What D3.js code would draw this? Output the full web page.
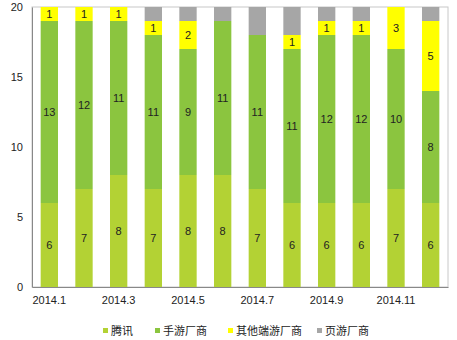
<!DOCTYPE html>
<html>
<head>
<meta charset="utf-8">
<script src="https://cdn.jsdelivr.net/npm/d3@7"></script>
<style>
  html, body { margin: 0; padding: 0; background: #fff; }
  svg { display: block; font-family: "Liberation Sans", "Noto Sans CJK SC", sans-serif; }
</style>
</head>
<body>
<svg id="chart" width="457" height="340"></svg>
<script>
// Monthly counts per publisher group, stacked bottom to top
const months = ["2014.1","2014.2","2014.3","2014.4","2014.5","2014.6","2014.7","2014.8","2014.9","2014.10","2014.11","2014.12"];
const tencent   = [6, 7, 8, 7, 8, 8, 7, 6, 6, 6, 7, 6];
const mobile    = [13,12,11,11, 9,11,11,11,12,12,10, 8];
const otherPC   = [1, 1, 1, 1, 2, 0, 0, 1, 1, 1, 3, 5];
const webGame   = [0, 0, 0, 1, 1, 1, 2, 2, 1, 1, 0, 1];
const seriesNames = ["腾讯", "手游厂商", "其他端游厂商", "页游厂商"];
const seriesColors = ["#b3d234", "#8bc53f", "#ffff00", "#a6a6a6"];
const yTicks = [0, 5, 10, 15, 20];
const xTickLabels = ["2014.1","2014.3","2014.5","2014.7","2014.9","2014.11"];

const keys = ["tencent", "mobile", "otherPC", "webGame"];
const rows = months.map((m, i) => ({
  month: m, tencent: tencent[i], mobile: mobile[i], otherPC: otherPC[i], webGame: webGame[i]
}));

const svg = d3.select("#chart");
const margin = { left: 32, right: 9, top: 7, bottom: 53 };
const W = 457, H = 340;
const innerW = W - margin.left - margin.right;
const innerH = H - margin.top - margin.bottom;

const x = d3.scaleBand().domain(months).range([margin.left, margin.left + innerW]).paddingInner(0.5).paddingOuter(0.25);
const y = d3.scaleLinear().domain([0, 20]).range([margin.top + innerH, margin.top]);

const stacked = d3.stack().keys(keys)(rows);

// Plot frame (light border round the plot area)
svg.append("rect")
  .attr("x", margin.left).attr("y", margin.top)
  .attr("width", innerW).attr("height", innerH)
  .attr("fill", "none").attr("stroke", "#c8c8c8").attr("stroke-width", 1);

// Bars
const layers = svg.append("g").selectAll("g").data(stacked).join("g")
  .attr("fill", (d, i) => seriesColors[i]);
layers.selectAll("rect").data(d => d).join("rect")
  .attr("x", d => x(d.data.month))
  .attr("width", x.bandwidth())
  .attr("y", d => y(d[1]))
  .attr("height", d => y(d[0]) - y(d[1]));

// Value labels (first three series)
stacked.slice(0, 3).forEach(layer => {
  svg.append("g").selectAll("text").data(layer.filter(d => d[1] - d[0] > 0)).join("text")
    .attr("x", d => x(d.data.month) + x.bandwidth() / 2)
    .attr("y", d => (y(d[0]) + y(d[1])) / 2)
    .attr("dy", "0.35em")
    .attr("text-anchor", "middle")
    .attr("font-size", 11)
    .attr("fill", "#222")
    .text(d => d[1] - d[0]);
});

// Y axis
const yAxis = svg.append("g")
  .attr("transform", `translate(${margin.left},0)`)
  .call(d3.axisLeft(y).tickValues(yTicks).tickSize(0).tickPadding(9));
yAxis.select(".domain").attr("stroke", "#888");
yAxis.selectAll("text").attr("font-size", 11).attr("fill", "#222");

// X axis
const xAxis = svg.append("g")
  .attr("transform", `translate(0,${margin.top + innerH})`)
  .call(d3.axisBottom(x).tickValues(xTickLabels).tickSize(0).tickPadding(9));
xAxis.select(".domain").attr("stroke", "#888");
xAxis.selectAll("text").attr("font-size", 11).attr("fill", "#222");

// Legend
const legendX = [103, 155, 228, 317];
const legend = svg.append("g").selectAll("g").data(seriesNames).join("g")
  .attr("transform", (d, i) => `translate(${legendX[i]},${331})`);
legend.append("rect").attr("x", 0).attr("y", -3).attr("width", 5).attr("height", 5)
  .attr("fill", (d, i) => seriesColors[i]);
legend.append("text").attr("x", 8).attr("y", 0).attr("dy", "0.35em")
  .attr("font-size", 11).attr("fill", "#222")
  .attr("font-family", "'Noto Sans CJK SC', sans-serif")
  .text(d => d);
</script>
</body>
</html>
